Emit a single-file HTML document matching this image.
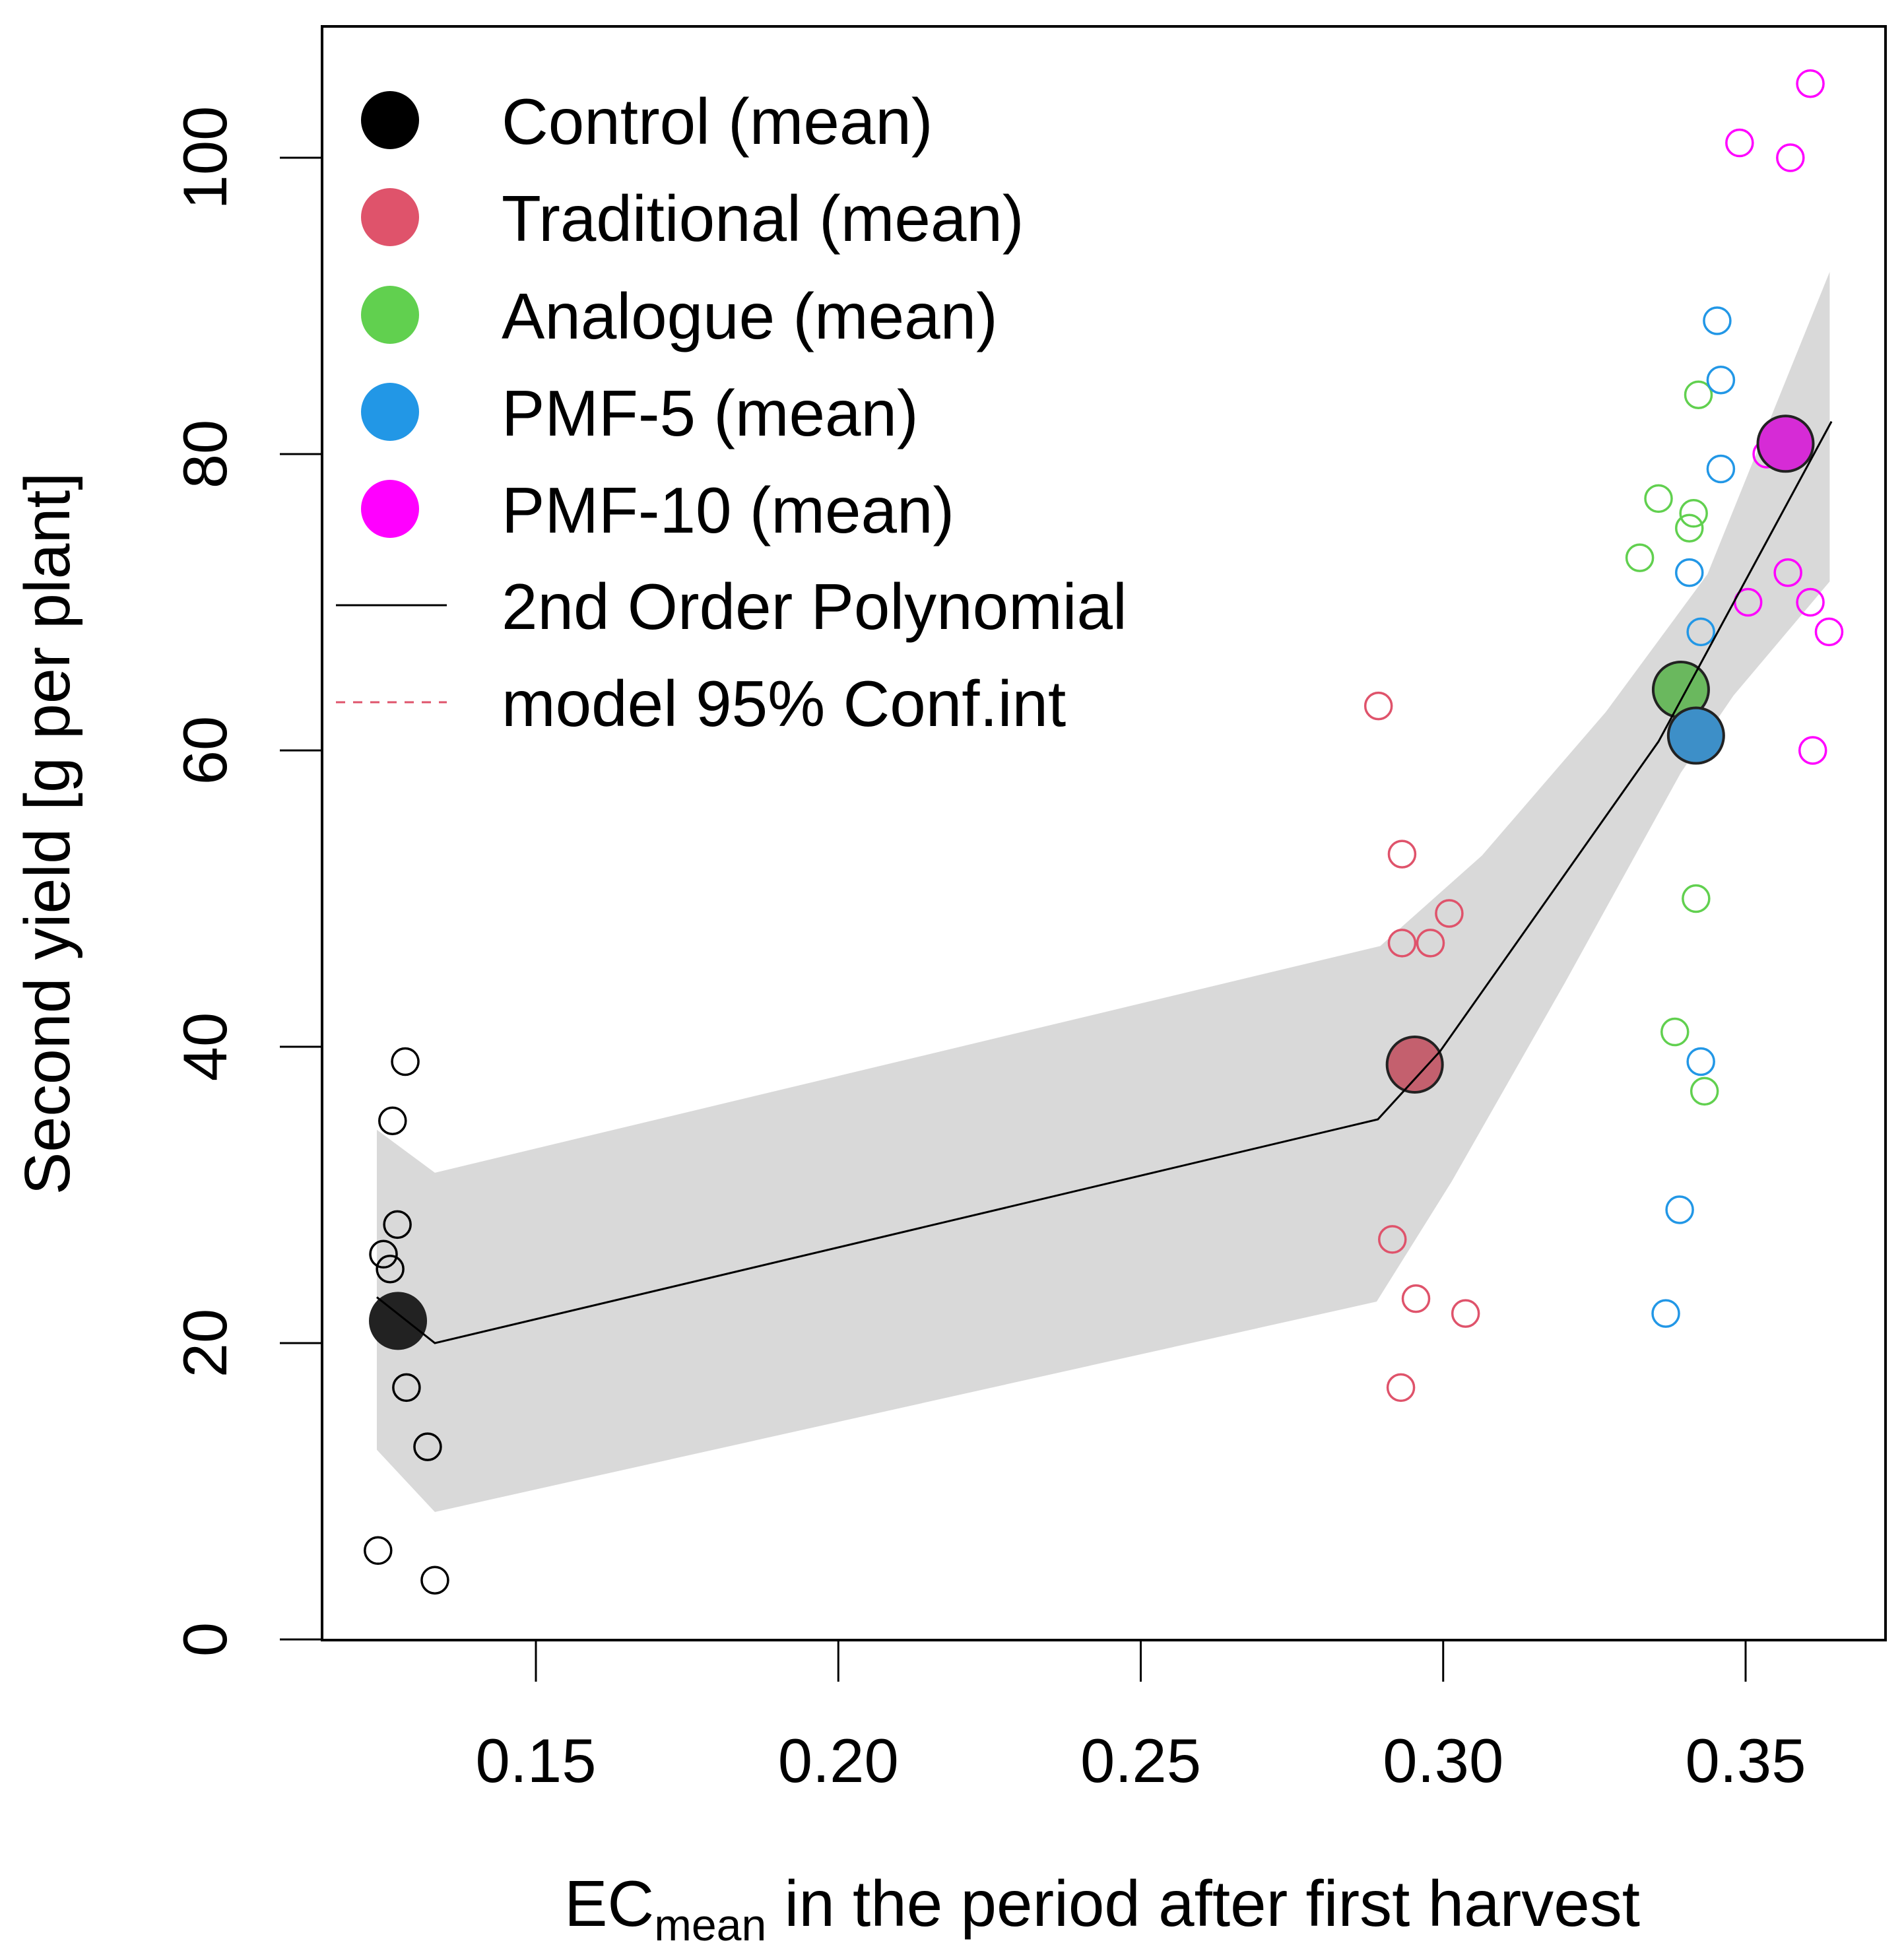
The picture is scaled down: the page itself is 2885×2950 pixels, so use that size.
<!DOCTYPE html>
<html><head><meta charset="utf-8"><style>
html,body{margin:0;padding:0;background:#fff;}
svg{display:block;font-family:"Liberation Sans",sans-serif;}
</style></head><body>
<svg id="chart" width="2885" height="2950" viewBox="0 0 2885 2950" xmlns="http://www.w3.org/2000/svg">
<g id="band-layer"></g>
<g id="line-layer"></g>
<g id="points-layer"></g>
<g id="axes-layer"></g>
<g id="legend"></g>
</svg>
<script>
const xTicks = [0.15, 0.20, 0.25, 0.30, 0.35];
const xTickLabels = ["0.15", "0.20", "0.25", "0.30", "0.35"];
const yTicks = [0, 20, 40, 60, 80, 100];
const yTickLabels = ["0", "20", "40", "60", "80", "100"];

const controlX = [0.1284, 0.1263, 0.1271, 0.1248, 0.1259, 0.1286, 0.1321, 0.1239, 0.1333];
const controlY = [39, 35, 28, 26, 25, 17, 13, 6, 4];
const tradX = [0.2893, 0.2932, 0.2932, 0.2979, 0.3010, 0.2916, 0.2955, 0.3037, 0.2930];
const tradY = [63, 53, 47, 47, 49, 27, 23, 22, 17];
const analX = [0.3422, 0.3356, 0.3414, 0.3407, 0.3325, 0.3418, 0.3383, 0.3432];
const analY = [84, 77, 76, 75, 73, 50, 41, 37];
const pmf5X = [0.3453, 0.3459, 0.3459, 0.3407, 0.3426, 0.3426, 0.3391, 0.3368];
const pmf5Y = [89, 85, 79, 72, 68, 39, 29, 22];
const pmf10X = [0.3607, 0.3490, 0.3574, 0.3535, 0.3570, 0.3504, 0.3607, 0.3638, 0.3611];
const pmf10Y = [105, 101, 100, 80, 72, 70, 70, 68, 60];

const meanNames = ["Control", "Traditional", "Analogue", "PMF-5", "PMF-10"];
const meanX = [0.1272, 0.2953, 0.3393, 0.3418, 0.3566];
const meanY = [21.5, 38.8, 64.1, 61.0, 80.7];

const fitX = [0.1237, 0.1333, 0.2892, 0.2995, 0.3356, 0.3642];
const fitY = [23.1, 20.0, 35.1, 39.7, 60.6, 82.2];
const upperX = [0.1237, 0.1333, 0.2896, 0.3064, 0.3269, 0.3437, 0.3639];
const upperY = [34.4, 31.5, 46.8, 52.9, 62.6, 71.9, 92.3];
const lowerX = [0.1237, 0.1333, 0.2890, 0.3014, 0.3201, 0.3393, 0.3480, 0.3639];
const lowerY = [12.8, 8.6, 22.8, 30.9, 44.3, 58.5, 63.7, 71.4];

const NS = "http://www.w3.org/2000/svg";
const L = 488, R = 2857, T = 40, B = 2485;
function sx(v){ return 812 + (v - 0.15) * 9165; }
function sy(v){ return 2484 - v * 22.45; }
function mk(tag, attrs, parent){ const e = document.createElementNS(NS, tag); for (const k in attrs) e.setAttribute(k, attrs[k]); parent.appendChild(e); return e; }

const colOpen = ["#000000", "#DF536B", "#61D04F", "#2297E6", "#FF00FF"];
const colMean = ["#222222", "#C4606E", "#6AB85E", "#3D8FC8", "#D62BD6"];

const bandG = document.getElementById("band-layer");
let pts = [];
for (let i = 0; i < upperX.length; i++) pts.push(sx(upperX[i]) + "," + sy(upperY[i]));
for (let i = lowerX.length - 1; i >= 0; i--) pts.push(sx(lowerX[i]) + "," + sy(lowerY[i]));
const band = mk("polygon", {points: pts.join(" "), fill: "#d9d9d9", stroke: "none"}, bandG);



const pg = document.getElementById("points-layer");
const groups = [[controlX, controlY, "control"], [tradX, tradY, "traditional"], [analX, analY, "analogue"], [pmf5X, pmf5Y, "pmf-5"], [pmf10X, pmf10Y, "pmf-10"]];
groups.forEach((g, gi) => {
  for (let i = 0; i < g[0].length; i++) {
    const c = mk("circle", {cx: sx(g[0][i]), cy: sy(g[1][i]), r: 20, fill: "none", stroke: colOpen[gi], "stroke-width": 3.5}, pg);
    
    
  }
});

let lp = [];
for (let i = 0; i < fitX.length; i++) lp.push(sx(fitX[i]) + "," + sy(fitY[i]));

for (let i = 0; i < meanX.length; i++) {
  const c = mk("circle", {cx: sx(meanX[i]), cy: sy(meanY[i]), r: 42, fill: colMean[i], stroke: "#222", "stroke-width": 4}, pg);
  
  
}
const fl = mk("polyline", {points: lp.join(" "), fill: "none", stroke: "#000", "stroke-width": 3}, pg);



const ag = document.getElementById("axes-layer");
const box = mk("rect", {x: L, y: T, width: R - L, height: B - T, fill: "none", stroke: "#000", "stroke-width": 4}, ag);


xTicks.forEach((v, i) => {
  const t = mk("line", {x1: sx(v), x2: sx(v), y1: B, y2: 2548, stroke: "#000", "stroke-width": 3}, ag);
  
  
  const tx = mk("text", {x: sx(v), y: 2700, "font-size": 94, "text-anchor": "middle"}, ag);
  tx.textContent = xTickLabels[i];
  
  
});
yTicks.forEach((v, i) => {
  const t = mk("line", {x1: 424, x2: L, y1: sy(v), y2: sy(v), stroke: "#000", "stroke-width": 3}, ag);
  
  
  const tx = mk("text", {x: 0, y: 0, "font-size": 94, "text-anchor": "middle", transform: "translate(343," + sy(v) + ") rotate(-90)"}, ag);
  tx.textContent = yTickLabels[i];
  
  
});
const xt = mk("text", {x: 1670, y: 2918, "font-size": 98, "text-anchor": "middle"}, ag);
xt.innerHTML = 'EC<tspan font-size="68" dy="22">mean</tspan><tspan dy="-22"> in the period after first harvest</tspan>';


const yt = mk("text", {x: 0, y: 0, "font-size": 97, "text-anchor": "middle", transform: "translate(105,1263) rotate(-90)"}, ag);
yt.textContent = "Second yield [g per plant]";



const leg = document.getElementById("legend");
const legLabels = ["Control (mean)", "Traditional (mean)", "Analogue (mean)", "PMF-5 (mean)", "PMF-10 (mean)", "2nd Order Polynomial", "model 95% Conf.int"];
const legCols = ["#000000", "#DF536B", "#61D04F", "#2297E6", "#FF00FF"];
const legY = [182, 329, 477, 624, 771, 917, 1064];
for (let i = 0; i < 7; i++) {
  if (i < 5) {
    const c = mk("circle", {cx: 591, cy: legY[i], r: 44, fill: legCols[i]}, leg);
    
    
  } else if (i === 5) {
    const l = mk("line", {x1: 509, x2: 677, y1: legY[i], y2: legY[i], stroke: "#000", "stroke-width": 3}, leg);
    
    
  } else {
    const l = mk("line", {x1: 509, x2: 677, y1: legY[i], y2: legY[i], stroke: "#DF536B", "stroke-width": 3, "stroke-dasharray": "14,12"}, leg);
    
    
  }
  const t = mk("text", {x: 760, y: legY[i] + 36, "font-size": 98}, leg);
  t.textContent = legLabels[i];
  
  
}
</script>
</body></html>
